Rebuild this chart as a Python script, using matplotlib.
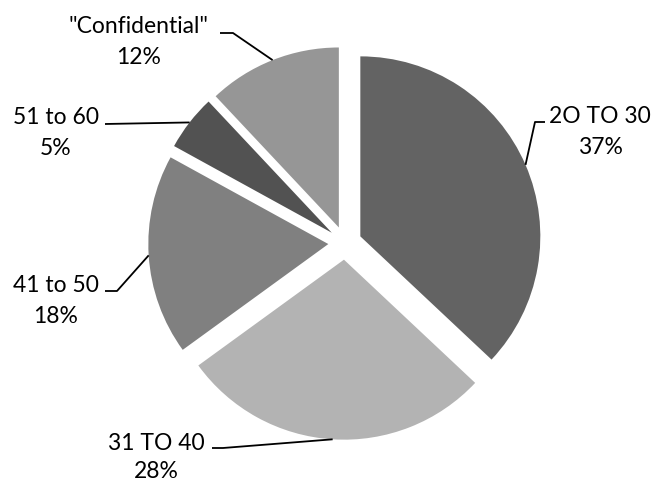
import numpy as np
import matplotlib
matplotlib.use("Agg")
import matplotlib.pyplot as plt

# Age groups and their share of respondents
labels = ["2O TO 30", "31 TO 40", "41 to 50", "51 to 60", "\"Confidential\""]
shares = [37, 28, 18, 5, 12]
colors = ["#636363", "#b3b3b3", "#808080", "#525252", "#969696"]

W, H = 652, 483
fig = plt.figure(figsize=(W / 100, H / 100), dpi=100)
ax = fig.add_axes([0, 0, 1, 1])


def sy(y):
    """Convert a top-down pixel row to the axis' upward y."""
    return H - y


center = (345, sy(243))
radius = 180
gap = 16.7  # slice offset, in pixels
wedges, _ = ax.pie(shares, colors=colors, startangle=90, counterclock=False,
                   explode=[gap] * len(shares), radius=radius, center=center,
                   wedgeprops=dict(linewidth=0), frame=True)
ax.set_xlim(0, W)
ax.set_ylim(0, H)
ax.set_aspect("equal")
ax.axis("off")

# leader line elbows / ends and label baselines (pixel rows, top-down)
leaders = [
    [(535, 122), (545, 122)],
    [(223, 448), (212, 448)],
    [(117, 291), (105, 291)],
    [(105, 124)],
    [(233, 33), (220, 33)],
]
label_pos = [(600, 123, 31), (156, 450, 28), (56, 292, 31), (56, 124, 31),
             (139, 33, 31)]

font = dict(family="Lato", size=16.5, color="black")
for w, lab, val, pts, (tx, ty, dy) in zip(wedges, labels, shares, leaders,
                                          label_pos):
    mid = np.deg2rad((w.theta1 + w.theta2) / 2)
    cx, cy = w.center
    ax_pt = (cx + w.r * np.cos(mid), cy + w.r * np.sin(mid))
    xs = [ax_pt[0]] + [p[0] for p in pts]
    ys = [ax_pt[1]] + [sy(p[1]) for p in pts]
    ax.plot(xs, ys, color="black", lw=1.3, solid_capstyle="butt")
    ax.text(tx, sy(ty), lab, ha="center", va="baseline", **font)
    ax.text(tx, sy(ty + dy), f"{val}%", ha="center", va="baseline", **font)

fig.savefig("out.png", dpi=100)
